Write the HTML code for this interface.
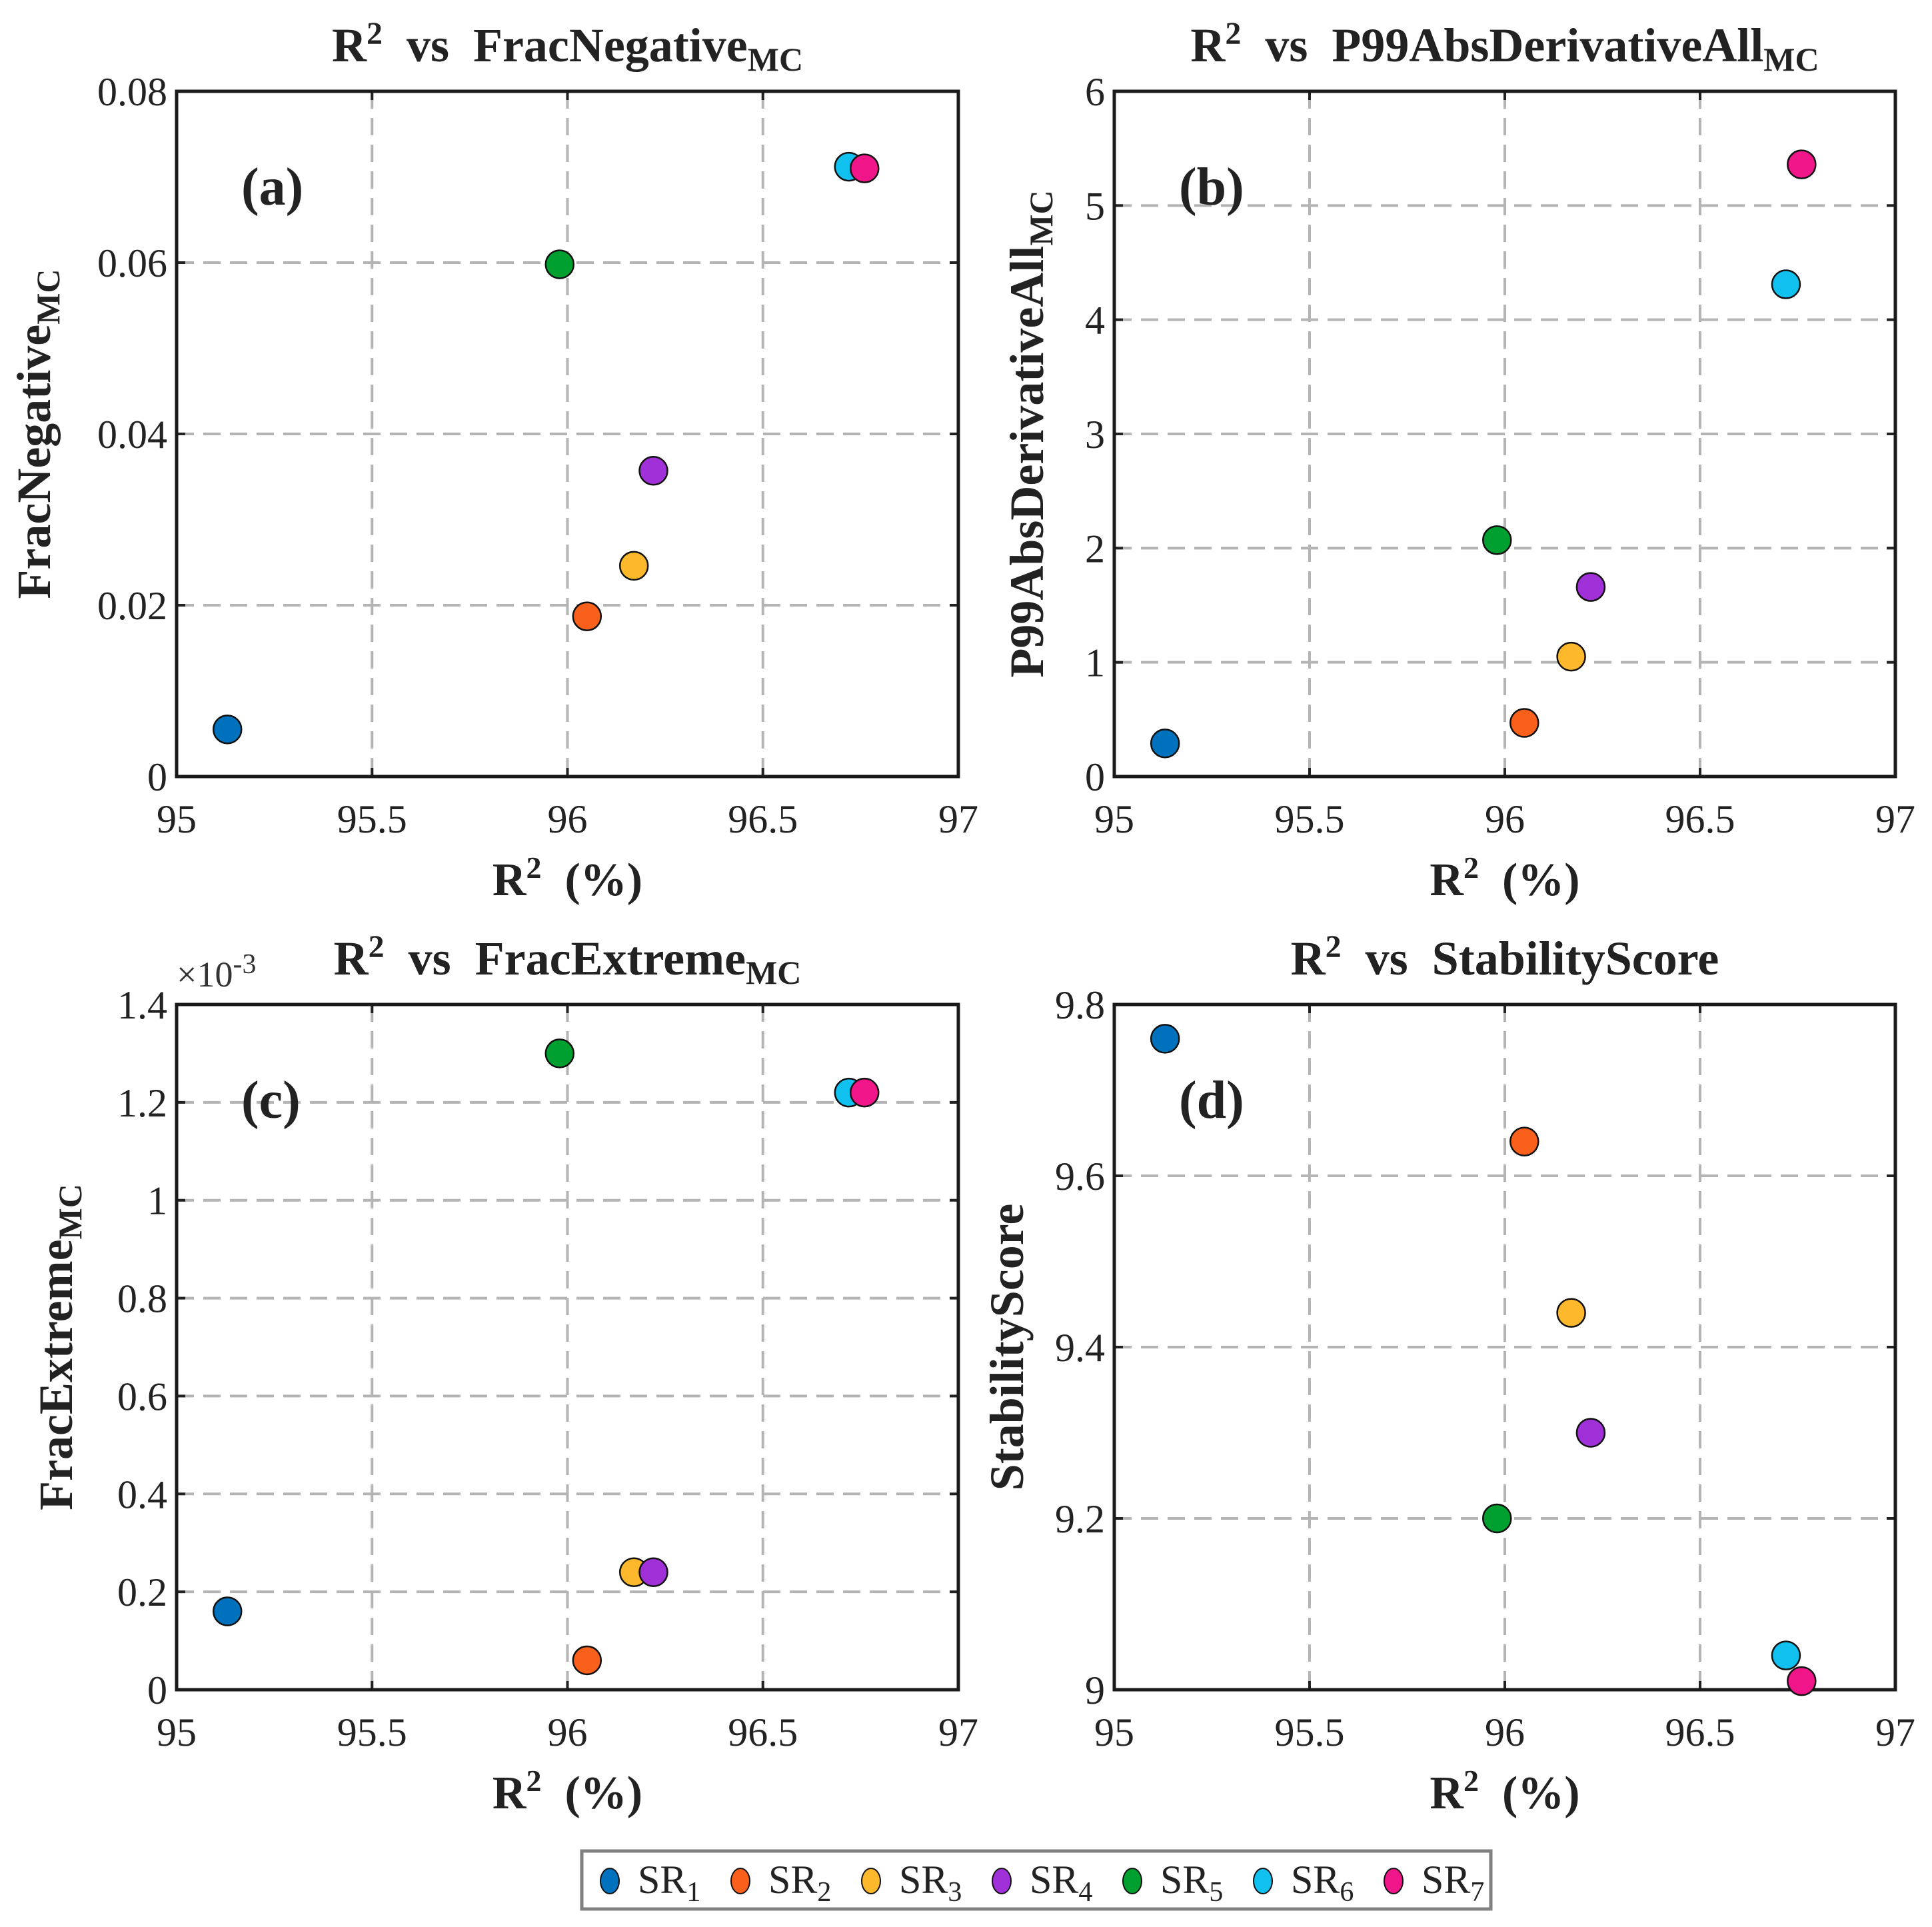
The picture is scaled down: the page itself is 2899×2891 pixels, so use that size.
<!DOCTYPE html>
<html><head><meta charset="utf-8"><style>
body{margin:0;background:#fff}
svg{display:block;font-family:"Liberation Serif",serif}
text{white-space:pre}
</style></head><body>
<svg id="chart" width="2899" height="2891" viewBox="0 0 2899 2891" xmlns="http://www.w3.org/2000/svg"></svg>
<script>
const seriesNames = ["1","2","3","4","5","6","7"];
const colors = ["#0072BD","#F8601B","#FDB92B","#A030D8","#00A030","#10C0EE","#F0168A"];
const r2Values = [95.13, 96.05, 96.17, 96.22, 95.98, 96.72, 96.76];
const fracNegative = [0.0055, 0.0187, 0.0246, 0.0357, 0.0598, 0.0712, 0.0710];
const p99Deriv = [0.29, 0.47, 1.05, 1.66, 2.07, 4.31, 5.36];
const fracExtreme = [0.16, 0.06, 0.24, 0.24, 1.30, 1.22, 1.22];
const stability = [9.76, 9.64, 9.44, 9.30, 9.20, 9.04, 9.01];
const xTicks = [95, 95.5, 96, 96.5, 97];
const yTicksA = [0, 0.02, 0.04, 0.06, 0.08];
const yTicksB = [0, 1, 2, 3, 4, 5, 6];
const yTicksC = [0, 0.2, 0.4, 0.6, 0.8, 1, 1.2, 1.4];
const yTicksD = [9, 9.2, 9.4, 9.6, 9.8];

const NS = "http://www.w3.org/2000/svg";
const svg = document.getElementById("chart");
function mk(tag, attrs, parent){const e=document.createElementNS(NS,tag);for(const k in attrs)e.setAttribute(k,attrs[k]);(parent||svg).appendChild(e);return e;}

function panel(o){
  const g = mk("g",{});
  
  
  const xs = v => o.L + (v - 95) / 2 * (o.R - o.L);
  const ys = v => o.B - (v - o.ymin) / (o.ymax - o.ymin) * (o.B - o.T);
  xTicks.slice(1,-1).forEach(t=>{
    const l = mk("line",{x1:xs(t),x2:xs(t),y1:o.T,y2:o.B,stroke:"#b4b4b4","stroke-width":4,"stroke-dasharray":"26 14"},g);
    
    
  });
  o.yt.slice(1,-1).forEach(t=>{
    const l = mk("line",{x1:o.L,x2:o.R,y1:ys(t),y2:ys(t),stroke:"#b4b4b4","stroke-width":4,"stroke-dasharray":"26 14"},g);
    
    
  });
  xTicks.forEach(t=>{
    mk("line",{x1:xs(t),x2:xs(t),y1:o.B,y2:o.B-13,stroke:"#222","stroke-width":4},g);
    mk("line",{x1:xs(t),x2:xs(t),y1:o.T,y2:o.T+13,stroke:"#222","stroke-width":4},g);
    const tx = mk("text",{x:xs(t),y:o.B+84,"font-size":60,"text-anchor":"middle",fill:"#222"},g);
    tx.textContent = t;
    
    
  });
  o.yt.forEach(t=>{
    mk("line",{x1:o.L,x2:o.L+13,y1:ys(t),y2:ys(t),stroke:"#222","stroke-width":4},g);
    mk("line",{x1:o.R,x2:o.R-13,y1:ys(t),y2:ys(t),stroke:"#222","stroke-width":4},g);
    const tx = mk("text",{x:o.L-14,y:ys(t)+21,"font-size":60,"text-anchor":"end",fill:"#222"},g);
    tx.textContent = t;
    
    
  });
  const box = mk("rect",{x:o.L,y:o.T,width:o.R-o.L,height:o.B-o.T,fill:"none",stroke:"#1a1a1a","stroke-width":5},g);
  
  
  o.vals.forEach((v,i)=>{
    const c = mk("circle",{cx:xs(r2Values[i]),cy:ys(v),r:21,fill:colors[i],stroke:"#111","stroke-width":2.5},g);
    
    
  });
  const pl = mk("text",{x:o.L+97,y:o.T+170,"font-size":80,"font-weight":"bold",fill:"#222"},g);
  pl.textContent = o.letter;
  
  
  const ti = mk("text",{x:(o.L+o.R)/2,y:o.T-45,"font-size":72,"font-weight":"bold","text-anchor":"middle",fill:"#222"},g);
  ti.innerHTML = 'R<tspan dy="-26" font-size="48">2</tspan><tspan dy="26">  vs  '+o.title+'</tspan>'+(o.sub?'<tspan dy="14" font-size="50">'+o.sub+'</tspan>':'');
  
  
  const xl = mk("text",{x:(o.L+o.R)/2,y:o.B+178,"font-size":70,"font-weight":"bold","text-anchor":"middle",fill:"#222"},g);
  xl.innerHTML = 'R<tspan dy="-26" font-size="46">2</tspan><tspan dy="26">  (%)</tspan>';
  
  
  const yc = (o.T+o.B)/2;
  const yl = mk("text",{x:0,y:0,"font-size":72,"font-weight":"bold","text-anchor":"middle",fill:"#222",transform:"translate("+o.ylx+","+yc+") rotate(-90)"},g);
  yl.innerHTML = o.ylabel + (o.ysub?'<tspan dy="14" font-size="50">'+o.ysub+'</tspan>':'');
  
  
  return {g, xs, ys};
}

panel({name:"panel-a",L:265,R:1438,T:137,B:1165,ymin:0,ymax:0.08,yt:yTicksA,vals:fracNegative,letter:"(a)",title:"FracNegative",sub:"MC",ylabel:"FracNegative",ysub:"MC",ylx:75});
panel({name:"panel-b",L:1672,R:2844,T:137,B:1165,ymin:0,ymax:6,yt:yTicksB,vals:p99Deriv,letter:"(b)",title:"P99AbsDerivativeAll",sub:"MC",ylabel:"P99AbsDerivativeAll",ysub:"MC",ylx:1565});
panel({name:"panel-c",L:265,R:1438,T:1507,B:2535,ymin:0,ymax:1.4,yt:yTicksC,vals:fracExtreme,letter:"(c)",title:"FracExtreme",sub:"MC",ylabel:"FracExtreme",ysub:"MC",ylx:108});
panel({name:"panel-d",L:1672,R:2844,T:1507,B:2535,ymin:9,ymax:9.8,yt:yTicksD,vals:stability,letter:"(d)",title:"StabilityScore",sub:"",ylabel:"StabilityScore",ysub:"",ylx:1535});

const ex = mk("text",{x:265,y:1480,"font-size":54,fill:"#333"});
ex.innerHTML = '×10<tspan dy="-20" font-size="42">-3</tspan>';



const lg = mk("g",{});


mk("rect",{x:873,y:2777,width:1364,height:87,fill:"#fff",stroke:"#808080","stroke-width":5},lg);
seriesNames.forEach((n,i)=>{
  const x = 915 + i*196;
  const e = mk("g",{},lg);
  
  
  mk("ellipse",{cx:x,cy:2822,rx:14,ry:19,fill:colors[i],stroke:"#111","stroke-width":2},e);
  const t = mk("text",{x:x+42,y:2840,"font-size":60,fill:"#222"},e);
  t.innerHTML = 'SR<tspan dy="12" font-size="42">'+n+'</tspan>';
});
</script>
</body></html>
